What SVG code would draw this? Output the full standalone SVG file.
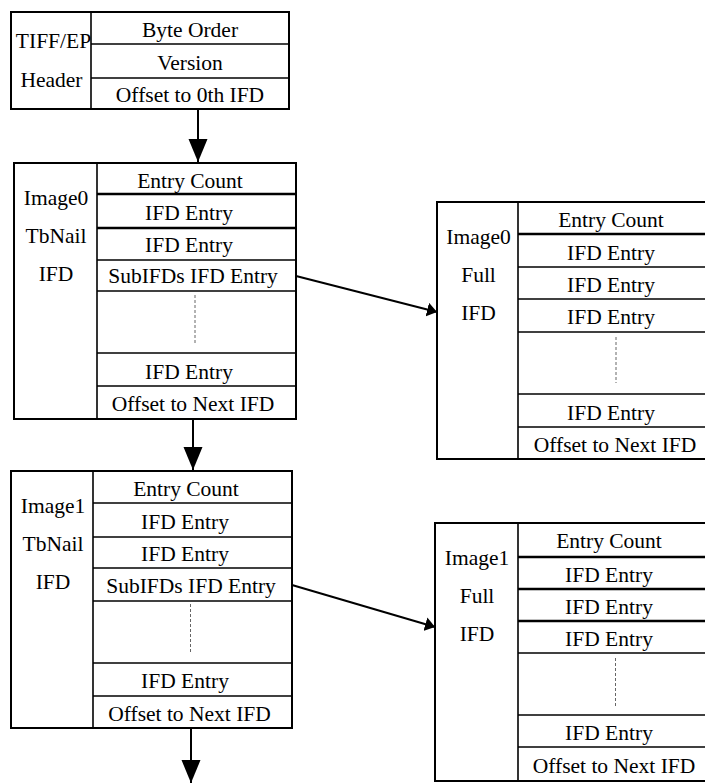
<svg xmlns="http://www.w3.org/2000/svg" width="705" height="783" viewBox="0 0 705 783">
<style>
.box{fill:#fff;stroke:#000;stroke-width:2}
.ln{stroke:#000;stroke-width:1.6;fill:none}
.thk{stroke:#000;stroke-width:2.4;fill:none}
.dot{stroke:#666;stroke-width:1;stroke-dasharray:3 2;fill:none}
.t{font-family:"Liberation Serif","Times New Roman",serif;font-size:21.5px;text-anchor:middle;fill:#000}
.conn{stroke:#000;stroke-width:2;fill:none}
</style>
<defs>
<marker id="big" markerUnits="userSpaceOnUse" markerWidth="24" markerHeight="20" refX="23" refY="9.5" orient="auto">
<path d="M0,0 L23,9.5 L0,19 z" fill="#000"/>
</marker>
<marker id="small" markerUnits="userSpaceOnUse" markerWidth="12" markerHeight="14" refX="10" refY="7" orient="auto">
<path d="M0,0 L10,7 L0,14 z" fill="#000"/>
</marker>
</defs>
<rect width="705" height="783" fill="#fff"/>

<g id="header">
<rect class="box" x="11" y="12" width="278" height="97"/>
<line class="ln" x1="91" y1="12" x2="91" y2="109"/>
<line class="ln" x1="91" y1="44" x2="289" y2="44"/>
<line class="ln" x1="91" y1="78" x2="289" y2="78"/>
<text class="t" x="53.5" y="47.5">TIFF/EP</text>
<text class="t" x="51.5" y="87">Header</text>
<text class="t" x="190" y="37">Byte Order</text>
<text class="t" x="190" y="69.5">Version</text>
<text class="t" x="190" y="101.5">Offset to 0th IFD</text>
</g>

<g id="image0-tbnail">
<rect class="box" x="14" y="163" width="282" height="256"/>
<line class="ln" x1="97" y1="163" x2="97" y2="419"/>
<line class="thk" x1="97" y1="194" x2="296" y2="194"/>
<line class="thk" x1="97" y1="228" x2="296" y2="228"/>
<line class="ln" x1="97" y1="260" x2="296" y2="260"/>
<line class="ln" x1="97" y1="291" x2="296" y2="291"/>
<line class="ln" x1="97" y1="353" x2="296" y2="353"/>
<line class="ln" x1="97" y1="386" x2="296" y2="386"/>
<line class="dot" x1="195" y1="295" x2="195" y2="345"/>
<text class="t" x="56" y="205">Image0</text>
<text class="t" x="56" y="243">TbNail</text>
<text class="t" x="56" y="281">IFD</text>
<text class="t" x="190" y="187.5">Entry Count</text>
<text class="t" x="189" y="219.5">IFD Entry</text>
<text class="t" x="189" y="252">IFD Entry</text>
<text class="t" x="193" y="283">SubIFDs IFD Entry</text>
<text class="t" x="189" y="378.5">IFD Entry</text>
<text class="t" x="193" y="411">Offset to Next IFD</text>
</g>

<g id="image0-full">
<rect class="box" x="437" y="202" width="273" height="257"/>
<line class="ln" x1="518" y1="202" x2="518" y2="459"/>
<line class="thk" x1="518" y1="234" x2="710" y2="234"/>
<line class="ln" x1="518" y1="267" x2="710" y2="267"/>
<line class="ln" x1="518" y1="299" x2="710" y2="299"/>
<line class="ln" x1="518" y1="332" x2="710" y2="332"/>
<line class="ln" x1="518" y1="394" x2="710" y2="394"/>
<line class="ln" x1="518" y1="427" x2="710" y2="427"/>
<line class="dot" x1="616" y1="337" x2="616" y2="383"/>
<text class="t" x="478.5" y="244">Image0</text>
<text class="t" x="478.5" y="282">Full</text>
<text class="t" x="478.5" y="320">IFD</text>
<text class="t" x="611" y="227">Entry Count</text>
<text class="t" x="611" y="260">IFD Entry</text>
<text class="t" x="611" y="291.5">IFD Entry</text>
<text class="t" x="611" y="323.5">IFD Entry</text>
<text class="t" x="611" y="419.5">IFD Entry</text>
<text class="t" x="615" y="451.5">Offset to Next IFD</text>
</g>

<g id="image1-tbnail">
<rect class="box" x="11" y="471" width="281" height="257"/>
<line class="ln" x1="93" y1="471" x2="93" y2="728"/>
<line class="ln" x1="93" y1="503" x2="292" y2="503"/>
<line class="ln" x1="93" y1="537" x2="292" y2="537"/>
<line class="ln" x1="93" y1="568" x2="292" y2="568"/>
<line class="ln" x1="93" y1="601" x2="292" y2="601"/>
<line class="ln" x1="93" y1="663" x2="292" y2="663"/>
<line class="ln" x1="93" y1="696" x2="292" y2="696"/>
<line class="dot" x1="190.5" y1="604" x2="190.5" y2="654"/>
<text class="t" x="53" y="513">Image1</text>
<text class="t" x="53" y="551">TbNail</text>
<text class="t" x="53" y="589">IFD</text>
<text class="t" x="186" y="495.5">Entry Count</text>
<text class="t" x="185" y="528.5">IFD Entry</text>
<text class="t" x="185" y="561">IFD Entry</text>
<text class="t" x="191" y="592.5">SubIFDs IFD Entry</text>
<text class="t" x="185" y="688">IFD Entry</text>
<text class="t" x="189.5" y="720.5">Offset to Next IFD</text>
</g>

<g id="image1-full">
<rect class="box" x="435" y="523" width="275" height="258"/>
<line class="ln" x1="518" y1="523" x2="518" y2="781"/>
<line class="thk" x1="518" y1="557" x2="710" y2="557"/>
<line class="thk" x1="518" y1="589" x2="710" y2="589"/>
<line class="thk" x1="518" y1="621" x2="710" y2="621"/>
<line class="ln" x1="518" y1="653" x2="710" y2="653"/>
<line class="ln" x1="518" y1="715" x2="710" y2="715"/>
<line class="ln" x1="518" y1="747" x2="710" y2="747"/>
<line class="dot" x1="615.5" y1="658" x2="615.5" y2="707"/>
<text class="t" x="477" y="565">Image1</text>
<text class="t" x="477" y="603">Full</text>
<text class="t" x="477" y="641">IFD</text>
<text class="t" x="609" y="548">Entry Count</text>
<text class="t" x="609" y="581.5">IFD Entry</text>
<text class="t" x="609" y="613.5">IFD Entry</text>
<text class="t" x="609" y="645.5">IFD Entry</text>
<text class="t" x="609" y="740">IFD Entry</text>
<text class="t" x="614" y="772.5">Offset to Next IFD</text>
</g>

<g id="connectors">
<line class="conn" x1="198" y1="109" x2="198" y2="162" marker-end="url(#big)"/>
<line class="conn" x1="193" y1="419" x2="193" y2="470" marker-end="url(#big)"/>
<line class="conn" x1="191" y1="728" x2="191" y2="783" marker-end="url(#big)"/>
<line class="conn" x1="296" y1="276" x2="437" y2="312" marker-end="url(#small)"/>
<line class="conn" x1="292" y1="585" x2="435" y2="627" marker-end="url(#small)"/>
</g>
</svg>
